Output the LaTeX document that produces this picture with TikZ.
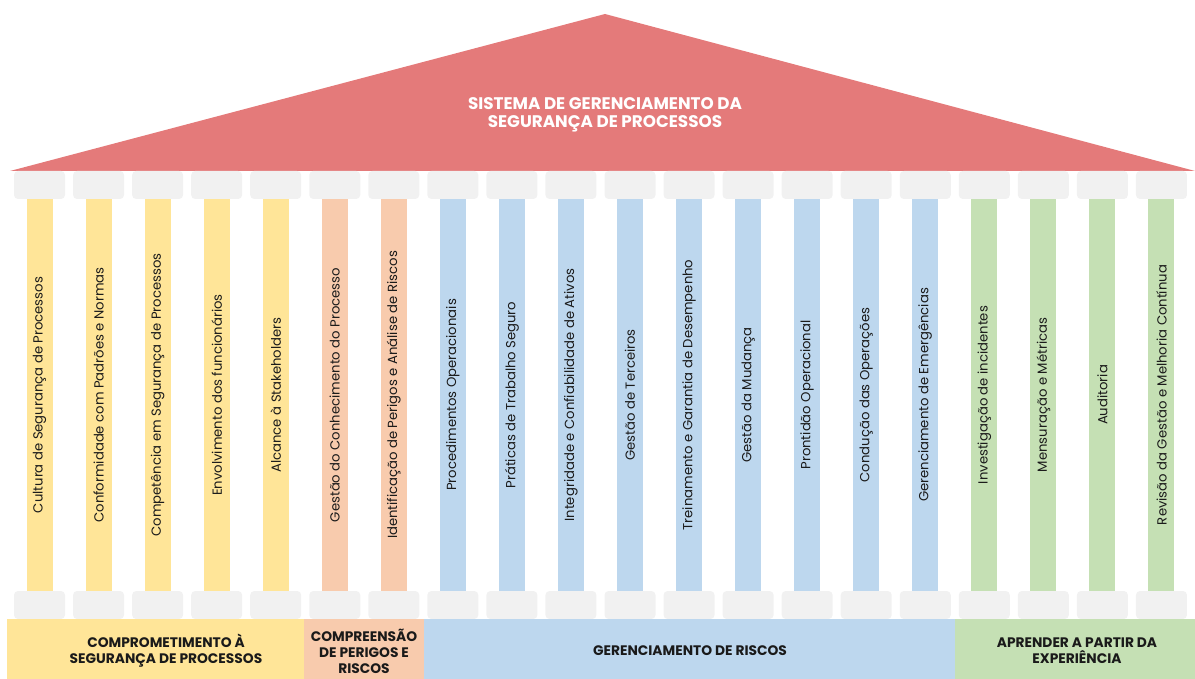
\documentclass[tikz,border=0pt]{standalone}
\usepackage{fontspec}
\setmainfont{Poppins}
\definecolor{roofc}{HTML}{E47A7A}
\definecolor{yelc}{HTML}{FFE598}
\definecolor{peachc}{HTML}{F8CBAD}
\definecolor{bluec}{HTML}{BDD7EE}
\definecolor{greenc}{HTML}{C5E0B4}
\definecolor{capc}{HTML}{F1F1F1}
\definecolor{txtc}{HTML}{1A1A1A}
\begin{document}
\begin{tikzpicture}[x=1pt,y=-1pt,
  capstone/.style={fill=capc, draw=none, rounded corners=4pt},
  coltext/.style={rotate=90, font=\fontsize{13.2}{15}\selectfont, text=txtc, inner sep=0pt},
  bartext/.style={font=\fontsize{13.8}{16}\selectfont\bfseries, text=txtc, align=center, inner sep=0pt},
  titletext/.style={font=\fontsize{16.8}{17.5}\selectfont\bfseries, text=white, align=center, inner sep=0pt}]
\useasboundingbox (0,0) rectangle (1195,679);
% roof
\fill[roofc] (10,171) -- (605,14) -- (1195,171) -- cycle;
\node[titletext] (title) at (605,115) {SISTEMA DE GERENCIAMENTO DA\\SEGURANÇA DE PROCESSOS};
% columns
\foreach \i/\lab/\col in {
 0/Cultura de Segurança de Processos/yelc,
 1/Conformidade com Padrões e Normas/yelc,
 2/Competência em Segurança de Processos/yelc,
 3/Envolvimento dos funcionários/yelc,
 4/Alcance à Stakeholders/yelc,
 5/Gestão do Conhecimento do Processo/peachc,
 6/Identificação de Perigos e Análise de Riscos/peachc,
 7/Procedimentos Operacionais/bluec,
 8/Práticas de Trabalho Seguro/bluec,
 9/Integridade e Confiabilidade de Ativos/bluec,
 10/Gestão de Terceiros/bluec,
 11/Treinamento e Garantia de Desempenho/bluec,
 12/Gestão da Mudança/bluec,
 13/Prontidão Operacional/bluec,
 14/Condução das Operações/bluec,
 15/Gerenciamento de Emergências/bluec,
 16/Investigação de incidentes/greenc,
 17/Mensuração e Métricas/greenc,
 18/Auditoria/greenc,
 19/Revisão da Gestão e Melhoria Contínua/greenc}{
  \pgfmathsetmacro{\cx}{39.5+59.05*\i}
  \fill[\col] (\cx-13,195) rectangle (\cx+13,595);
  \fill[capstone] (\cx-25.5,171) rectangle (\cx+25.5,199);
  \fill[capstone] (\cx-25.5,591) rectangle (\cx+25.5,619);
  \node[coltext] (c\i) at (\cx,395) {\lab};
}
% bottom bars
\fill[yelc] (7,619) rectangle (304,679);
\fill[peachc] (304,619) rectangle (424,679);
\fill[bluec] (424,619) rectangle (955,679);
\fill[greenc] (955,619) rectangle (1195,679);
\node[bartext] (b1) at (166,651) {COMPROMETIMENTO À\\SEGURANÇA DE PROCESSOS};
\node[bartext] (b2) at (364,651) {COMPREENSÃO\\DE PERIGOS E\\RISCOS};
\node[bartext] (b3) at (690,651) {GERENCIAMENTO DE RISCOS};
\node[bartext] (b4) at (1077,651) {APRENDER A PARTIR DA\\EXPERIÊNCIA};
\end{tikzpicture}
\end{document}
